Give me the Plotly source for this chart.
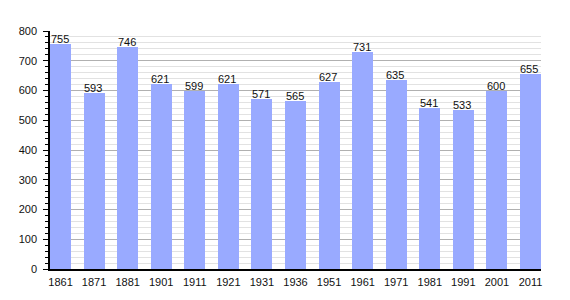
import plotly.graph_objects as go

years = ["1861", "1871", "1881", "1901", "1911", "1921", "1931", "1936",
         "1951", "1961", "1971", "1981", "1991", "2001", "2011"]
population = [755, 593, 746, 621, 599, 621, 571, 565, 627, 731, 635, 541, 533, 600, 655]

bw = 0.627
fig = go.Figure(go.Bar(
    x=years, y=population, width=bw,
    marker=dict(color="#99aaff", line=dict(width=0)),
))

for i, v in enumerate(population):
    fig.add_annotation(x=i, y=v, xref="x", yref="y", text=str(v), showarrow=False,
                       yanchor="bottom", yshift=-3, xshift=-1,
                       font=dict(family="Liberation Sans, Arial, sans-serif", size=11, color="#111"))

fig.update_layout(
    width=570, height=300,
    margin=dict(l=50, r=29, t=31, b=29),
    plot_bgcolor="white", paper_bgcolor="white",
    font=dict(family="Liberation Sans, Arial, sans-serif", size=10, color="#111"),
    showlegend=False,
    bargap=0,
)
fig.update_xaxes(
    type="category", range=[-bw / 2, len(years) - 1 + bw / 2],
    showline=True, linecolor="black", linewidth=1.5,
    ticks="", showgrid=False, tickfont=dict(size=11), ticklabelstandoff=2,
)
fig.update_yaxes(
    range=[0, 800], dtick=100, tick0=0,
    showline=True, linecolor="black", linewidth=1.5,
    ticks="outside", ticklen=5, tickcolor="black",
    showgrid=True, gridcolor="#b0b0b0", gridwidth=1,
    zeroline=False, tickfont=dict(size=11), ticklabelstandoff=4,
    minor=dict(dtick=20, showgrid=True, gridcolor="#e2e2e2", gridwidth=1,
               ticks="outside", ticklen=3, tickcolor="black"),
)

fig.write_html("out.html")
